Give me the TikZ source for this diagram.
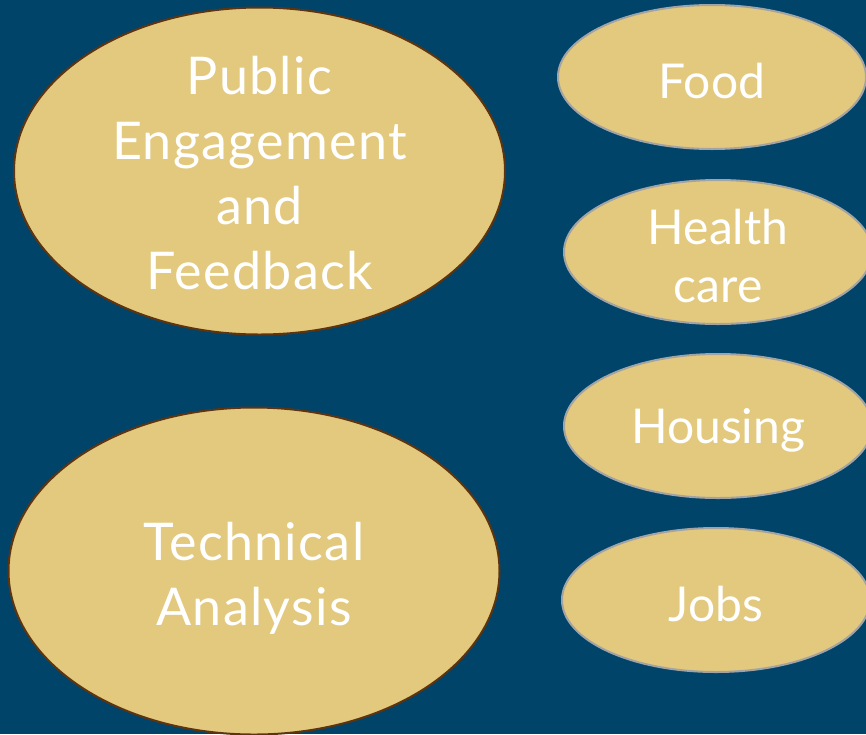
\documentclass[tikz,border=0pt]{standalone}
\usepackage{fontspec}
\setmainfont{Lato}
\newfontfamily\widelato[LetterSpace=2.5]{Lato}
\usepackage{xcolor}
\usetikzlibrary{shapes.geometric,positioning}
\definecolor{bgblue}{HTML}{00446A}
\definecolor{sand}{HTML}{E2C97E}
\definecolor{rim}{HTML}{5E3410}
\definecolor{greyrim}{HTML}{A3A3A3}

\begin{document}
\begin{tikzpicture}[x=1pt,y=-1pt,
	bigoval/.style={ellipse, draw=rim, line width=2pt, fill=sand, inner sep=0pt,
		minimum width=491pt, minimum height=327pt},
	smalloval/.style={ellipse, draw=greyrim, line width=2pt, fill=sand, inner sep=0pt,
		minimum width=308pt, minimum height=144pt},
	bigtext/.style={text=white, align=center, font=\widelato\fontsize{52}{65}\selectfont},
	smalltext/.style={text=white, align=center, font=\fontsize{48}{58}\selectfont}]
			\useasboundingbox (0,0) rectangle (866,734);
			\fill[bgblue] (0,0) rectangle (866,734);
			\clip (0,0) rectangle (866,734);
			% left ovals
			\node[bigoval] (pub) at (259.5,171) {};
			\node[bigtext] (pubtxt) at ([yshift=-2pt]pub) {Public\\Engagement\\and\\Feedback};
			\node[bigoval] (tech) at (254,571) {};
			\node[bigtext] (techtxt) at ([yshift=-7pt]tech) {Technical\\Analysis};
			% right ovals
			\foreach \name/\x/\y/\lbl in {food/712/77/Food, health/718/252/{Health\\care},
				housing/718/426/Housing, jobs/716/600/Jobs}
			{
				\node[smalloval] (\name) at (\x,\y) {};
				\node[smalltext] (\name txt) at ([yshift=-4pt]\name) {\lbl};
			}
		\end{tikzpicture}
\end{document}
